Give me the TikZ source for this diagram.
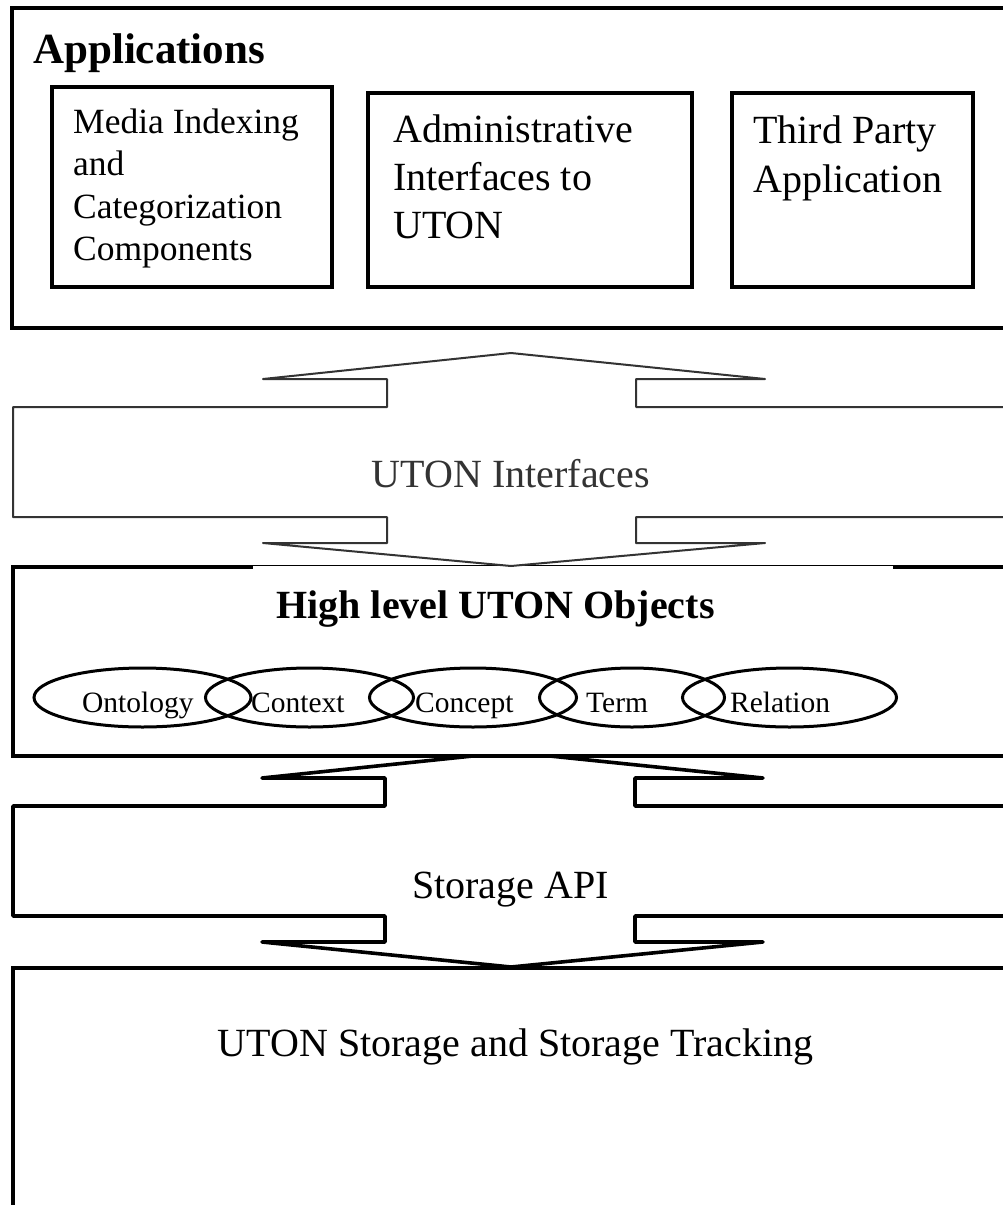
\documentclass[tikz,border=0pt]{standalone}
\usepackage{fontspec}
\setmainfont{Liberation Serif}
\usetikzlibrary{shapes.geometric}
\definecolor{ifacegray}{HTML}{333333}
\begin{document}
\begin{tikzpicture}[x=1pt,y=-1pt,
  panel/.style={draw, line width=3.6pt, rectangle, anchor=north west, inner sep=0pt, outer sep=0pt},
  appbox/.style={draw, line width=3.2pt, rectangle, anchor=north west, inner sep=0pt, outer sep=0pt},
  obj/.style={draw, line width=3pt, ellipse, inner sep=0pt, outer sep=0pt, minimum height=59pt},
  objlabel/.style={anchor=base west, inner sep=0pt, font=\fontsize{29.5}{34}\selectfont},
  bigtext/.style={anchor=base, inner sep=0pt, font=\fontsize{40}{48}\selectfont},
  boxtext/.style={anchor=base west, inner sep=0pt},
  blockarrow/.style={line width=3.6pt, line join=round, line cap=round},
]
\useasboundingbox (0,0) rectangle (1003,1205);
\clip (0,0) rectangle (1003,1205);

% Storage API: double block arrow between the object layer and storage
\draw[blockarrow, fill=white]
  (1015,806) -- (635,806) -- (635,778) -- (763,778) -- (511,752) -- (262,778)
  -- (385,778) -- (385,806) -- (13,806) -- (13,916) -- (385,916) -- (385,942)
  -- (262,942) -- (511,967) -- (763,942) -- (635,942) -- (635,916) -- (1015,916);

% High level object layer
\node[panel, fill=white, minimum width=1003pt, minimum height=189pt] (objects) at (13,567) {};
\fill[white] (253,566.3) rectangle (893,569.2);

% UTON interfaces: double block arrow between applications and objects
\draw[ifacegray, line width=2pt, line join=round, line cap=round, fill=white]
  (1015,407) -- (636,407) -- (636,379) -- (765,379) -- (511,353) -- (263,379)
  -- (387,379) -- (387,407) -- (13,407) -- (13,517) -- (387,517) -- (387,543)
  -- (263,543) -- (511,566) -- (765,543) -- (636,543) -- (636,517) -- (1015,517);

% Storage layer
\node[panel, minimum width=1003pt, minimum height=300pt] (storage) at (13,968) {};

% Applications layer and its components
\node[panel, minimum width=1003pt, minimum height=320pt] (apps) at (12,8) {};
\node[appbox, minimum width=280pt, minimum height=200pt] (media) at (52,87) {};
\node[appbox, minimum width=324pt, minimum height=194pt] (admin) at (368,93) {};
\node[appbox, minimum width=241pt, minimum height=194pt] (third) at (732,93) {};

\node[boxtext, font=\bfseries\fontsize{43}{50}\selectfont] (appstitle) at (33,63) {Applications};
\node[boxtext, font=\fontsize{35.5}{42.5}\selectfont] (mediatext) at (73,133)
  {\begin{tabular}[t]{@{}l@{}}Media Indexing\\and\\Categorization\\Components\end{tabular}};
\node[boxtext, font=\fontsize{40}{48}\selectfont] (admintext) at (393,142)
  {\begin{tabular}[t]{@{}l@{}}Administrative\\Interfaces to\\UTON\end{tabular}};
\node[boxtext, font=\fontsize{40}{49}\selectfont] (thirdtext) at (753,143)
  {\begin{tabular}[t]{@{}l@{}}Third Party\\Application\end{tabular}};

% Interface and layer titles
\node[bigtext, text=ifacegray] (ifacetext) at (511,487) {UTON Interfaces};
\node[bigtext, font=\bfseries\fontsize{40}{48}\selectfont] (objtitle) at (495.5,618) {High level UTON Objects};
\node[bigtext] (apitext) at (510.5,898) {Storage API};
\node[bigtext] (storagetext) at (515.5,1056) {UTON Storage and Storage Tracking};

% Object kinds as a chain of overlapping ellipses
\node[obj, minimum width=217pt] (ontology) at (142.5,697.5) {};
\node[obj, minimum width=208pt] (context)  at (309.5,697.5) {};
\node[obj, minimum width=207pt] (concept)  at (473,697.5) {};
\node[obj, minimum width=185pt] (term)     at (632,697.5) {};
\node[obj, minimum width=214pt] (relation) at (789.5,697.5) {};

\node[objlabel] (ontologytext) at (82,712) {Ontology};
\node[objlabel] (contexttext)  at (251,712) {Context};
\node[objlabel] (concepttext)  at (415,712) {Concept};
\node[objlabel] (termtext)     at (586,712) {Term};
\node[objlabel] (relationtext) at (730,712) {Relation};
\end{tikzpicture}
\end{document}
